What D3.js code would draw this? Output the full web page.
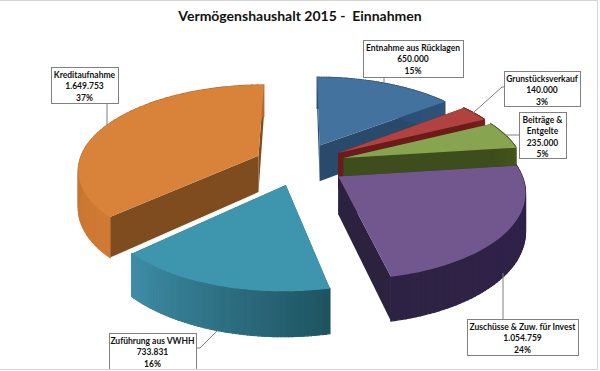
<!DOCTYPE html>
<html>
<head>
<meta charset="utf-8">
<script src="https://cdn.jsdelivr.net/npm/d3@7"></script>
<style>
  html, body { margin: 0; padding: 0; background: #fff; }
  text { font-family: Lato, sans-serif; font-weight: 700; fill: #111; }
</style>
</head>
<body>
<div id="chart"></div>
<script>
const categories = ["Entnahme aus Rücklagen", "Grunstücksverkauf", "Beiträge & Entgelte",
  "Zuschüsse & Zuw. für Invest", "Zuführung aus VWHH", "Kreditaufnahme"];
const amounts = [650000, 140000, 235000, 1054759, 733831, 1649753];
const labelLines = [["Entnahme aus Rücklagen"], ["Grunstücksverkauf"], ["Beiträge &", "Entgelte"],
  ["Zuschüsse & Zuw. für Invest"], ["Zuführung aus VWHH"], ["Kreditaufnahme"]];
const titleText = "Vermögenshaushalt 2015 -  Einnahmen";

const topColors = ["#44729f", "#b0423f", "#87a450", "#72578f", "#3d96ae", "#d9823a"];
const wallColors = [
  ["#2b4c70", "#2f5379"], ["#6e1c1b", "#7a2220"], ["#3e4e1c", "#46561f"],
  ["#30224a", "#2e2244"], ["#1e5462", "#3f8ea7"], ["#cf7a35", "#b46a2c"]
];
const sideColors = ["#2a4a6c", "#6a1b1a", "#3d4d1c", "#2d2140", "#1f5666", "#7f4c20"];

// drawn back to front
const drawOrder = [0, 1, 2, 3, 5, 4];

// label boxes: x, y, w, h and the leader line
const labelBoxes = [
  {x: 363, y: 40, w: 100, h: 37, leader: [[384, 77], [384, 83]]},
  {x: 504, y: 71, w: 76, h: 35, leader: [[504, 87], [502, 87], [473, 113]]},
  {x: 519, y: 112, w: 47, h: 46, leader: [[519, 135], [505, 135]]},
  {x: 467, y: 319, w: 111, h: 36, leader: [[503, 319], [503, 273]]},
  {x: 109, y: 333, w: 87, h: 40, leader: [[196, 348], [200, 348], [218, 330]]},
  {x: 51, y: 67, w: 67, h: 36, leader: [[107, 103], [107, 125]]}
];

const width = 600, height = 371;
const cx = 300, cy = 164;
const radiusX = 180, radiusY = 83.5, camera = 6.74;
const explode = 0.255, depth = 37;

const svg = d3.select("#chart")
  .append("svg")
    .attr("width", width)
    .attr("height", height)
    .style("display", "block");

const numFormat = d3.formatLocale({decimal: ",", thousands: ".", grouping: [3], currency: ["", ""]}).format(",d");
const pctFormat = d3.format(".0%");
const total = d3.sum(amounts);

const pie = d3.pie().sort(null).value(d => d)(amounts);

// ground point (unit radius) -> screen, h = 0 top surface, h = 1 bottom
function project(gx, gy, h) {
  const s = camera / (camera - gy);
  return [cx + s * gx * radiusX, cy + s * (gy * radiusY + h * depth)];
}

const line = d3.line();

function slicePoints(d, h) {
  const mid = (d.startAngle + d.endAngle) / 2;
  const ox = explode * Math.sin(mid), oy = -explode * Math.cos(mid);
  const apex = project(ox, oy, h);
  const steps = d3.range(0, 61).map(i => d.startAngle + (d.endAngle - d.startAngle) * i / 60);
  const arc = steps.map(a => project(ox + Math.sin(a), oy - Math.cos(a), h));
  return {apex, arc};
}

const slices = svg.selectAll("g.slice")
  .data(drawOrder)
  .join("g")
    .attr("class", "slice");

slices.each(function (i) {
  const g = d3.select(this), d = pie[i];
  const top = slicePoints(d, 0), bot = slicePoints(d, 1);
  const n = top.arc.length - 1;
  // two flat sides
  g.append("path")
    .attr("d", line([top.apex, top.arc[0], bot.arc[0], bot.apex]) + "Z")
    .attr("fill", sideColors[i]);
  g.append("path")
    .attr("d", line([top.apex, top.arc[n], bot.arc[n], bot.apex]) + "Z")
    .attr("fill", sideColors[i]);
  // outer wall, one strip per arc step
  const shade = d3.interpolateRgb(wallColors[i][0], wallColors[i][1]);
  d3.range(n).forEach(k => {
    g.append("path")
      .attr("d", line([top.arc[k], top.arc[k + 1], bot.arc[k + 1], bot.arc[k]]) + "Z")
      .attr("fill", shade(k / n))
      .attr("stroke", shade(k / n))
      .attr("stroke-width", 1.2);
  });
  // top
  g.append("path")
    .attr("d", line([top.apex].concat(top.arc)) + "Z")
    .attr("fill", topColors[i]);
});

// title
svg.append("text")
  .attr("x", 300)
  .attr("y", 21)
  .attr("text-anchor", "middle")
  .attr("font-size", 14)
  .style("white-space", "pre")
  .text(titleText);

// labels
const labels = svg.selectAll("g.label")
  .data(labelBoxes)
  .join("g")
    .attr("class", "label");

labels.append("path")
  .attr("d", d => line(d.leader))
  .attr("fill", "none")
  .attr("stroke", "#7f7f7f");

labels.append("rect")
  .attr("x", d => d.x + 0.5)
  .attr("y", d => d.y + 0.5)
  .attr("width", d => d.w)
  .attr("height", d => d.h)
  .attr("fill", "#fff")
  .attr("stroke", "#808080");

labels.each(function (b, i) {
  const rows = labelLines[i].concat([numFormat(amounts[i]), pctFormat(amounts[i] / total)]);
  d3.select(this).selectAll("text")
    .data(rows)
    .join("text")
      .attr("x", b.x + b.w / 2)
      .attr("y", (r, k) => b.y + 11 + k * 11.3)
      .attr("text-anchor", "middle")
      .attr("font-size", 8.5)
      .text(r => r);
});

// white strip under the frame cuts the lowest box
svg.append("rect").attr("x", 0).attr("y", 370).attr("width", width).attr("height", 1).attr("fill", "#fff");

// frame of the picture
svg.append("path")
  .attr("d", "M0,0.5H597.5V369.5H0")
  .attr("fill", "none")
  .attr("stroke", "#d4d4d4");
</script>
</body>
</html>
